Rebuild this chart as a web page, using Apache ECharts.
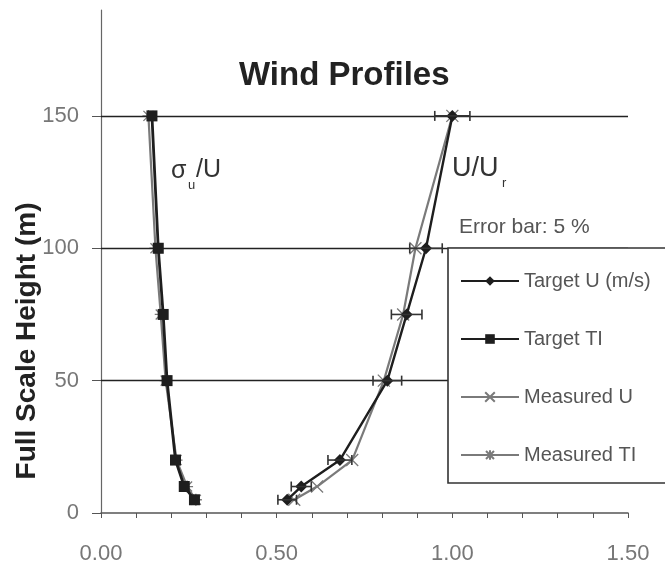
<!DOCTYPE html>
<html>
<head>
<meta charset="utf-8">
<script src="https://cdn.jsdelivr.net/npm/echarts@6/dist/echarts.min.js"></script>
<style>
html,body{margin:0;padding:0;background:#fff;}
#chart{width:665px;height:567px;}
</style>
</head>
<body>
<div id="chart"></div>
<script>
// ---- data ----
var heights = [150, 100, 75, 50, 20, 10, 5];
var targetU = [1.00, 0.925, 0.87, 0.815, 0.68, 0.57, 0.53];
var targetTI = [0.145, 0.163, 0.177, 0.188, 0.212, 0.237, 0.266];
var measuredU = [1.00, 0.895, 0.86, 0.805, 0.715, 0.615, 0.55];
var measuredTI = [0.135, 0.155, 0.17, 0.184, 0.215, 0.245, 0.27];
var errorFraction = 0.05;
var yTicks = [0, 50, 100, 150];
var gridHeights = [50, 100, 150];
var seriesNames = ['Target U (m/s)', 'Target TI', 'Measured U', 'Measured TI'];

function pairs(xs) { return xs.map(function (x, i) { return [x, heights[i]]; }); }

var FONT = "'Liberation Sans', Arial, sans-serif";
var darkC = '#1e1e1e';
var grayC = '#7a7a7a';
var crossPath = 'path://M0,0L10,10M10,0L0,10';
var starPath = 'path://M0,0L10,10M10,0L0,10M5,-1L5,11M-1,5L11,5';

var chart = echarts.init(document.getElementById('chart'), null, {renderer: 'canvas'});

var option = {
  animation: false,
  backgroundColor: '#ffffff',
  title: {
    text: 'Wind Profiles',
    left: 239, top: 59, padding: 0,
    textStyle: {fontFamily: FONT, fontSize: 33, fontWeight: 'bold', color: '#222'}
  },
  grid: {left: 101, right: 37, top: 10, bottom: 54, containLabel: false},
  xAxis: {
    type: 'value', min: 0, max: 1.5, interval: 0.5,
    axisLine: {show: true, onZero: false, lineStyle: {color: '#555', width: 1.5}},
    axisTick: {show: true, length: 5, lineStyle: {color: '#555'}},
    minorTick: {show: true, splitNumber: 5, length: 5, lineStyle: {color: '#555'}},
    splitLine: {show: false},
    axisLabel: {
      margin: 30, fontFamily: FONT, fontSize: 22, color: '#777',
      formatter: function (v) { return v.toFixed(2); }
    }
  },
  yAxis: {
    type: 'value', min: 0, max: 190, interval: 50,
    axisLine: {show: true, onZero: false, lineStyle: {color: '#666', width: 1.2}},
    axisTick: {show: true, length: 9, customValues: yTicks, lineStyle: {color: '#555'}},
    splitLine: {show: false},
    axisLabel: {
      margin: 22, fontFamily: FONT, fontSize: 22, color: '#777',
      customValues: yTicks
    }
  },
  legend: {
    data: seriesNames,
    orient: 'vertical',
    left: 460, top: 271,
    padding: 0,
    itemWidth: 58, itemHeight: 12,
    itemGap: 38,
    z: 10,
    textStyle: {fontFamily: FONT, fontSize: 20, color: '#555', lineHeight: 20}
  },
  series: [
    {
      name: 'Target U (m/s)', type: 'line', data: pairs(targetU),
      symbol: 'diamond', symbolSize: 12, z: 5,
      lineStyle: {color: darkC, width: 2.4},
      itemStyle: {color: darkC},
      markLine: {
        silent: true, symbol: 'none', label: {show: false},
        lineStyle: {color: '#222', width: 1.3, type: 'solid'},
        data: gridHeights.map(function (h) { return {yAxis: h}; })
      }
    },
    {
      name: 'Target TI', type: 'line', data: pairs(targetTI),
      symbol: 'rect', symbolSize: 11, z: 5,
      lineStyle: {color: darkC, width: 2.8},
      itemStyle: {color: darkC}
    },
    {
      name: 'Measured U', type: 'line', data: pairs(measuredU),
      symbol: crossPath, symbolSize: 12, z: 4,
      lineStyle: {color: grayC, width: 2.2},
      itemStyle: {color: 'rgba(0,0,0,0)', borderColor: grayC, borderWidth: 1.3}
    },
    {
      name: 'Measured TI', type: 'line', data: pairs(measuredTI),
      symbol: starPath, symbolSize: 12, z: 4,
      lineStyle: {color: grayC, width: 2.2},
      itemStyle: {color: 'rgba(0,0,0,0)', borderColor: grayC, borderWidth: 1.3}
    },
    {
      name: 'error', type: 'custom', z: 6, silent: true,
      data: targetU.map(function (u, i) { return [u * (1 - errorFraction), u * (1 + errorFraction), heights[i]]; }),
      renderItem: function (params, api) {
        var p1 = api.coord([api.value(0), api.value(2)]);
        var p2 = api.coord([api.value(1), api.value(2)]);
        var c = 5;
        var st = {stroke: '#333', lineWidth: 1.6, fill: null};
        return {
          type: 'group',
          children: [
            {type: 'line', shape: {x1: p1[0], y1: p1[1], x2: p2[0], y2: p2[1]}, style: st},
            {type: 'line', shape: {x1: p1[0], y1: p1[1] - c, x2: p1[0], y2: p1[1] + c}, style: st},
            {type: 'line', shape: {x1: p2[0], y1: p2[1] - c, x2: p2[0], y2: p2[1] + c}, style: st}
          ]
        };
      }
    }
  ],
  graphic: [
    {
      type: 'rect', z: 8,
      shape: {x: 448, y: 248, width: 260, height: 235},
      style: {fill: '#fff', stroke: '#333', lineWidth: 1.6}
    },
    {
      type: 'text', z: 9, rotation: Math.PI / 2,
      x: 27, y: 341,
      style: {text: 'Full Scale Height (m)', font: 'bold 28px ' + FONT, fill: '#222',
              align: 'center', verticalAlign: 'middle'}
    },
    {type: 'text', z: 9, x: 171, y: 171,
     style: {text: 'σ', font: '25px ' + FONT, fill: '#333', align: 'left', verticalAlign: 'middle'}},
    {type: 'text', z: 9, x: 188, y: 185,
     style: {text: 'u', font: '13px ' + FONT, fill: '#333', align: 'left', verticalAlign: 'middle'}},
    {type: 'text', z: 9, x: 196, y: 170,
     style: {text: '/U', font: '25px ' + FONT, fill: '#333', align: 'left', verticalAlign: 'middle'}},
    {type: 'text', z: 9, x: 452, y: 169,
     style: {text: 'U/U', font: '27px ' + FONT, fill: '#333', align: 'left', verticalAlign: 'middle'}},
    {type: 'text', z: 9, x: 502, y: 183,
     style: {text: 'r', font: '13px ' + FONT, fill: '#333', align: 'left', verticalAlign: 'middle'}},
    {type: 'text', z: 9, x: 459, y: 227,
     style: {text: 'Error bar: 5 %', font: '21px ' + FONT, fill: '#555', align: 'left', verticalAlign: 'middle'}}
  ]
};
chart.setOption(option);
</script>
</body>
</html>
